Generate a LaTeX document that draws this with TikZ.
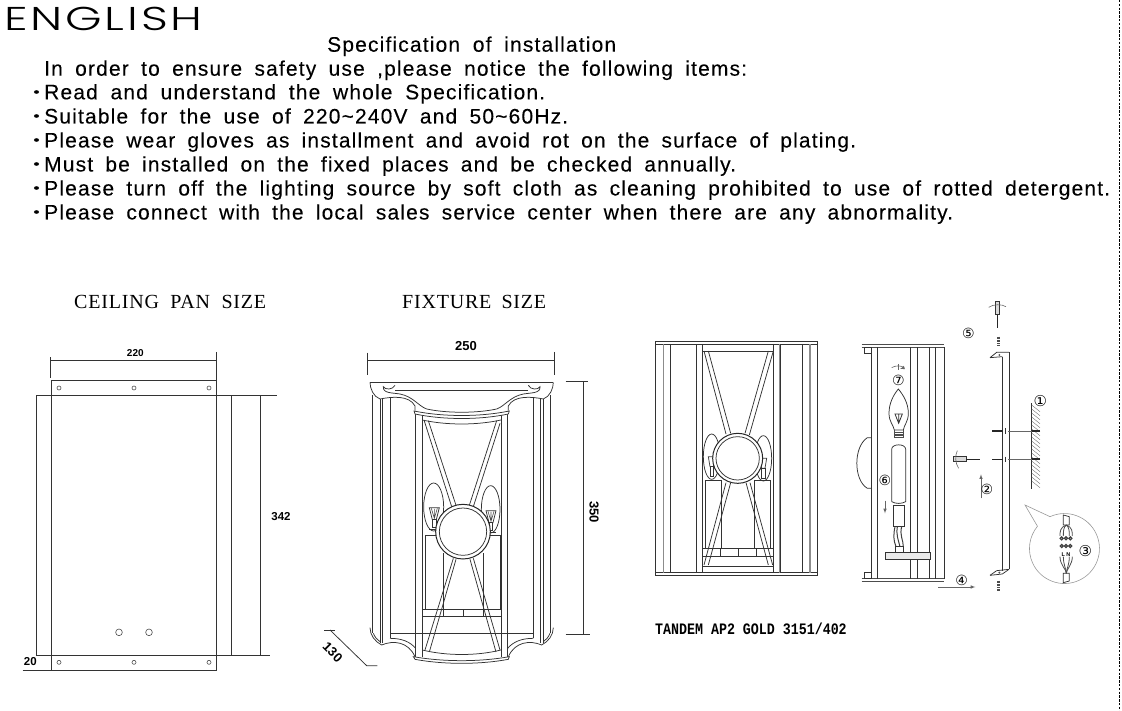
\documentclass[tikz,border=0pt]{standalone}
\usepackage{graphicx}
\usepackage{fontspec}
\setmainfont{Liberation Sans}
\newfontfamily\specfont[LetterSpace=5.5,FakeBold=0.1]{Liberation Sans}
\newfontfamily\engfont[LetterSpace=6]{Poppins Light}
\newfontfamily\titlefont[LetterSpace=4]{Liberation Serif}
\newfontfamily\modelfont{Liberation Mono}
\newfontfamily\digitfont{DejaVu Sans}
\newcommand{\specline}[2]{\makebox[#1pt][s]{\fontsize{21}{21}\specfont #2}}
\tikzset{
  x=1pt,y=-1pt,
  ln/.style={line width=.75pt,draw=black!80},
  thin gray/.style={line width=.6pt,draw=black!60},
  hatch/.style={line width=.4pt,draw=black!55},
  thick gray/.style={line width=1.6pt,draw=black!45},
  hole/.style={line width=.6pt,draw=black!70,fill=white},
  textline/.style={anchor=base west,inner sep=0pt},
  dimlab/.style={inner sep=0pt,font=\bfseries\fontsize{11.5}{11.5}\selectfont},
  dimbig/.style={inner sep=0pt,font=\bfseries\fontsize{13}{13}\selectfont},
  titlelab/.style={anchor=base west,inner sep=0pt,font=\titlefont\fontsize{20}{20}\selectfont},
  digit/.style={inner sep=0pt,font=\digitfont\fontsize{14}{14}\selectfont},
  digitbig/.style={inner sep=0pt,font=\digitfont\fontsize{15}{15}\selectfont},
  bullet/.style={circle,fill=black,inner sep=0pt,minimum size=3.6pt},
  screw/.style={line width=3pt,draw=black!70,dash pattern=on 1pt off .6pt},
}
\begin{document}
\begin{tikzpicture}
\useasboundingbox (0,0) rectangle (1122,711);
% --- text block
\node[textline,font=\engfont\fontsize{33}{33}\selectfont] (eng) at (4,31) {\scalebox{1.42}[1]{ENGLISH}};
\node[textline] (spec) at (327,51.7) {\specline{289}{Specification of installation}};
\node[textline] (l0) at (44,75.7) {\specline{703}{In order to ensure safety use ,please notice the following items:}};
\node[textline] (l1) at (44,99.3) {\specline{501}{Read and understand the whole Specification.}};
\node[textline] (l2) at (44,123.5) {\specline{524}{Suitable for the use of 220\textasciitilde240V and 50\textasciitilde60Hz.}};
\node[textline] (l3) at (44,147.5) {\specline{812}{Please wear gloves as installment and avoid rot on the surface of plating.}};
\node[textline] (l4) at (44,171.5) {\specline{692}{Must be installed on the fixed places and be checked annually.}};
\node[textline] (l5) at (44,195.5) {\specline{1066}{Please turn off the lighting source by soft cloth as cleaning prohibited to use of rotted detergent.}};
\node[textline] (l6) at (44,219.5) {\specline{909}{Please connect with the local sales service center when there are any abnormality.}};
\foreach \n/\yy in {b1/92,b2/116,b3/140,b4/164,b5/188,b6/212}
  \node[bullet,xscale=1.4] (\n) at (36.5,\yy) {};
\draw[line width=1pt,dash pattern=on 2.4pt off 1.4pt] (1119.5,0) -- (1119.5,711);

% --- titles
\node[titlelab] (tpan) at (74,309) {\makebox[192pt][s]{CEILING PAN SIZE}};
\node[titlelab] (tfix) at (402,309) {\makebox[144pt][s]{FIXTURE SIZE}};
\node[anchor=base west,inner sep=0pt,font=\modelfont\bfseries\fontsize{13.3}{13.3}\selectfont] (model) at (655,634) {\scalebox{1}[1.2]{TANDEM AP2 GOLD 3151/402}};

% --- ceiling pan
\begin{scope}[shift={(0,280)},scale=0.33333]
  \draw[ln] (108,347) rectangle (694,1125);
  \draw[ln] (154,300) rectangle (649,1170);
  \draw[ln] (694,347) -- (832,347);
  \draw[ln] (694,1125) -- (809,1125);
  \draw[ln] (781,347) -- (781,1125);
  \draw[ln] (68,1170) -- (154,1170);
  \draw[ln] (152,240) -- (649,240);
  \draw[ln] (152,232) -- (152,295);
  \draw[ln] (649,216) -- (649,300);
  \foreach \xx in {177,402,627} {
    \draw[hole] (\xx,324) circle[radius=6];
    \draw[hole] (\xx,1147) circle[radius=6];
  }
  \draw[hole] (357,1057) circle[radius=10];
  \draw[hole] (447,1057) circle[radius=10];
  \node[dimlab,font=\bfseries\fontsize{10}{10}\selectfont] (d220) at (406,220) {220};
  \node[dimlab] (d342) at (843,711) {342};
  \node[dimlab] (d20) at (91,1145) {20};
\end{scope}

% --- fixture front
\begin{scope}[shift={(320,280)},scale=0.33333]
  % dimensions
  \draw[ln] (143,240) -- (703,240);
  \draw[ln] (143,218) -- (143,285);
  \draw[ln] (703,216) -- (703,285);
  \draw[ln] (737,305) -- (804,305);
  \draw[ln] (737,1064) -- (811,1064);
  \draw[ln] (791,305) -- (791,1064);
  \draw[ln] (12,1050) -- (45,1050);
  \draw[ln] (30,1050) -- (140,1157) -- (172,1157);
  \node[dimbig] (d250) at (438,198) {250};
  \node[dimbig,rotate=-90] (d350) at (822,697) {350};
  \node[dimbig,rotate=-45] (d130) at (38,1117) {130};
  % top plate and rails
  \draw[ln] (150,307) -- (700,307);
  \draw[ln] (225,331) -- (625,331);
  \draw[ln] (211,1060) -- (639,1060);
  % mirrored outer members and curves
  \foreach \mir/\sh in {1/0,-1/850}{
  \begin{scope}[shift={(\sh,0)},xscale=\mir]
    \draw[ln] (158,345) -- (158,1060);
    \draw[ln] (180,357) -- (180,1088);
    \draw[ln] (188,357) -- (188,1088);
    \draw[ln] (210,355) -- (210,1075);
    \draw[ln] (287,392) -- (287,1130);
    \draw[ln] (307,402) -- (307,1130);
    \draw[ln] (150,307) .. controls (150,325) and (160,350) .. (180,357)
      .. controls (215,350) and (268,345) .. (285,378) -- (285,392);
    \draw[ln] (225,316) .. controls (218,330) and (195,330) .. (190,320)
      .. controls (188,340) and (215,338) .. (240,342)
      .. controls (280,350) and (295,378) .. (320,387);
    \draw[ln] (150,1043) .. controls (150,1065) and (165,1085) .. (185,1095)
      .. controls (220,1080) and (265,1085) .. (285,1130);
    \draw[ln] (160,1060) .. controls (165,1072) and (172,1080) .. (180,1085);
    \draw[ln] (210,1075) .. controls (245,1075) and (270,1085) .. (287,1105);
  \end{scope}}
  \draw[ln] (320,387) .. controls (380,400) and (470,400) .. (530,387);
  \draw[ln,fill=white] (282,393) .. controls (370,411) and (480,411) .. (568,393) -- (565,402) .. controls (480,420) and (370,420) .. (285,402) -- cycle;
  \draw[ln] (307,420) .. controls (380,436) and (470,436) .. (543,420);
  % bottom plate
  \draw[ln,fill=white] (280,1130) .. controls (370,1146) and (480,1146) .. (568,1130) -- (565,1138) .. controls (480,1154) and (370,1154) .. (285,1138) -- cycle;
  \draw[ln] (307,1110) .. controls (380,1128) and (470,1128) .. (543,1110);
  % tubes and base
  \draw[ln] (315,765) -- (315,988);
  \draw[ln] (370,820) -- (370,988);
  \draw[ln] (490,820) -- (490,988);
  \draw[ln] (540,765) -- (540,988);
  \draw[ln] (315,765) -- (352,765);
  \draw[ln] (510,765) -- (540,765);
  \draw[ln] (307,988) -- (543,988);
  \draw[ln] (307,1010) -- (543,1010);
  \draw[ln] (370,988) -- (370,1010);
  \draw[ln] (430,988) -- (430,1010);
  \draw[ln] (490,988) -- (490,1010);
  % bulbs
  \draw[ln] (341,681) ellipse[x radius=30,y radius=72];
  \draw[ln] (512,688) ellipse[x radius=28,y radius=71];
  \foreach \cx/\cy in {343/683,513/692}{
    \draw[ln,fill=white] (\cx-15,\cy) -- (\cx+15,\cy) -- (\cx+6,\cy+36) -- (\cx-6,\cy+36) -- cycle;
    \draw[line width=.6pt,draw=black!70] (\cx-9,\cy+2) -- (\cx,\cy+32) -- (\cx+9,\cy+2) (\cx,\cy+4) -- (\cx,\cy+32);
    \draw[ln,fill=white] (\cx-5,\cy+36) rectangle (\cx+5,\cy+60);
    \draw[ln] (\cx-15,\cy+64) -- (\cx+15,\cy+64);
  }
  % X bars
  \foreach \ax/\ay/\bx/\by in {312/420/395/680,325/422/408/676,540/430/460/680,530/422/448/676,
     400/835/315/1110,408/838/328/1116,450/838/528/1116,460/835/540/1110}
    \draw[ln] (\ax,\ay) -- (\bx,\by);
  % medallion
  \draw[line width=1pt,draw=black!85,fill=white] (429,755) circle[radius=82];
  \draw[ln,fill=white] (429,755) circle[radius=71];
\end{scope}

% --- front elevation
\begin{scope}[shift={(640,330)},scale=0.33333]
  \draw[ln] (47,35) rectangle (533,737);
  \draw[ln] (47,42) -- (533,42);
  \draw[ln] (47,728) -- (533,728);
  \foreach \xx in {91,168,187,400,421,487,533}
    \draw[ln] (\xx,42) -- (\xx,728);
  \draw[thick gray] (71,42) -- (71,728);
  \draw[thick gray] (510,42) -- (510,728);
  \draw[thick gray] (418,42) -- (418,728);
  \draw[ln] (187,63) -- (400,63);
  \draw[ln] (187,708) -- (400,708);
  \draw[ln] (187,655) -- (400,655);
  \draw[ln] (187,678) -- (400,678);
  \foreach \xx in {240,295,350}
    \draw[ln] (\xx,655) -- (\xx,678);
  \draw[ln] (195,452) rectangle (245,655);
  \draw[ln] (342,452) rectangle (392,655);
  \foreach \cx/\cy in {215/380,370/385}{
    \draw[ln] (\cx,\cy) ellipse[x radius=25,y radius=68];
    \draw[line width=.7pt,draw=black!75,fill=white] (\cx-10,\cy) -- (\cx+10,\cy) -- (\cx+5,\cy+30) -- (\cx-5,\cy+30) -- cycle;
    \draw[ln,fill=white] (\cx-5,\cy+30) rectangle (\cx+5,\cy+60);
  }
  \foreach \ax/\ay/\bx/\by in {192/63/258/312,205/63/272/310,385/63/315/310,400/63/328/315,
     258/458/192/705,272/458/205/705,318/458/385/705,330/458/398/705}
    \draw[ln] (\ax,\ay) -- (\bx,\by);
  \draw[line width=1pt,draw=black!85,fill=white] (293,385) circle[radius=75];
  \draw[ln,fill=white] (293,385) circle[radius=65];
\end{scope}

% --- side elevation and installation steps
\begin{scope}[shift={(840,290)},scale=0.33333]
  \draw[line width=1.1pt,draw=black!70] (65,163) -- (312,163) (65,172) -- (312,172);
  \draw[line width=1.1pt,draw=black!70] (65,866) -- (312,866) (65,875) -- (312,875);
  \foreach \xx in {95,113,212,232,268,285,312}
    \draw[ln] (\xx,172) -- (\xx,866);
  \draw[ln] (72,172) rectangle (95,190);
  \draw[ln] (72,847) rectangle (95,866);
  \draw[ln] (95,443) -- (82,443) .. controls (40,470) and (40,570) .. (82,595) -- (95,595);
  % bulb
  \draw[ln] (175,297) .. controls (160,315) and (147,340) .. (147,370)
     .. controls (147,395) and (160,405) .. (163,420) -- (190,420)
     .. controls (192,405) and (205,395) .. (205,370)
     .. controls (205,340) and (190,315) .. (175,297) -- cycle;
  \draw[line width=.8pt,draw=black!80] (165,372) -- (176,400) -- (187,372) -- cycle (176,400) -- (176,372);
  \draw[line width=1.4pt,draw=black!70] (164,420) -- (164,442) -- (190,442) -- (190,420) (164,428) -- (190,428) (164,435) -- (190,435);
  % socket tube
  \draw[ln] (155,635) -- (155,478) .. controls (155,460) and (197,460) .. (197,478) -- (197,635) .. controls (185,642) and (167,642) .. (155,635);
  \draw[ln] (160,645) rectangle (192,710);
  \draw[line width=1pt,draw=black!75] (165,710) .. controls (160,735) and (160,750) .. (168,770);
  \draw[line width=1pt,draw=black!75] (172,710) .. controls (168,735) and (175,750) .. (180,770);
  \draw[line width=1pt,draw=black!75] (185,710) .. controls (178,735) and (190,750) .. (190,770);
  \draw[ln] (167,768) rectangle (190,787);
  \draw[ln,fill=black!8] (135,787) rectangle (270,808);
  % rotation mark
  \draw[thin gray] (155,233) .. controls (165,226) and (185,226) .. (192,233);
  \draw[thin gray] (175,222) -- (175,240);
  \draw[thin gray,-latex] (192,233) -- (180,237);
  % arrow 6
  \coordinate (a6s) at (135,632);
  \coordinate (a6e) at (135,670);
  \draw[thin gray,-latex] (a6s) -- (a6e);
  \node[digit] (n7) at (175,270) {⑦};
  \node[digit] (n6) at (135,570) {⑥};
  % bracket
  \draw[ln] (487,200) -- (487,842);
  \draw[ln] (507,187) -- (507,838);
  \draw[ln] (450,203) -- (470,187) -- (507,187);
  \draw[ln] (450,203) -- (487,200);
  \draw[ln] (450,856) -- (470,842) -- (507,838);
  \draw[ln] (450,856) -- (487,852) -- (507,838);
  \draw[hole] (478,195) circle[radius=2];
  \draw[hole] (478,848) circle[radius=2];
  % top screwdriver and screw
  \node[digit] (n5) at (385,130) {⑤};
  \draw[line width=1pt,draw=black!80,fill=black!15] (465,35) rectangle (478,75);
  \draw[line width=1.4pt,draw=black!85] (472,75) -- (472,115);
  \draw[thin gray] (446,52) .. controls (460,42) and (485,42) .. (498,50);
  \draw[screw] (475,140) -- (475,168);
  % bottom screw
  \draw[screw] (475,872) -- (475,903);
  % wall
  \node[digitbig] (n1) at (601,333) {①};
  \draw[ln] (575,340) -- (575,596);
  \foreach \yy in {345,357,...,580}
    \draw[hatch] (575,\yy) -- (600,\yy+20);
  \foreach \yy in {423,508}{
    \draw[line width=1.4pt,draw=black!85] (456,\yy) -- (490,\yy);
    \draw[line width=1pt,draw=black!80] (497,\yy-8) -- (497,\yy+8);
    \draw[thin gray] (505,\yy) -- (575,\yy);
    \draw[line width=2.2pt,draw=black!85] (576,\yy) -- (600,\yy);
  }
  % side driver
  \draw[line width=1pt,draw=black!80,fill=black!15] (340,500) rectangle (378,515);
  \draw[line width=1.4pt,draw=black!85] (378,508) -- (420,508);
  \draw[thin gray] (352,482) .. controls (345,495) and (345,520) .. (356,535);
  % arrows 2 and 4
  \coordinate (a2s) at (423,625);
  \coordinate (a2e) at (423,553);
  \draw[thin gray,-latex] (a2s) -- (a2e);
  \node[digit] (n2) at (441,597) {②};
  \node[digit] (n4) at (365,870) {④};
  \coordinate (a4s) at (295,891);
  \coordinate (a4e) at (406,891);
  \draw[thin gray,-latex] (a4s) -- (a4e);
  % detail bubble
  \draw[line width=.6pt,draw=black!40] (555,645) -- (630,680)
    arc[start angle=-114.4,end angle=219.5,radius=105] -- cycle;
  \draw[ln] (670,675) -- (688,680) -- (688,705) -- (670,705) -- cycle;
  \draw[ln] (670,850) -- (688,850) -- (688,873) -- (670,878) -- cycle;
  \foreach \xx in {660,670,688,697}{
    \draw[line width=.8pt,draw=black!70] (679,705) .. controls (\xx,712) and (\xx,725) .. (\xx,738);
    \draw[line width=.8pt,draw=black!70] (\xx,800) .. controls (\xx,825) and (679,838) .. (679,850);
  }
  \foreach \yy in {745,768}
    \foreach \xx in {665,678,691}
      \draw[line width=1.2pt,draw=black!75] (\xx,\yy) circle[radius=4.5];
  \node[inner sep=0pt,font=\bfseries\fontsize{5.5}{5.5}\selectfont] (lan) at (678,793) {L N};
  \node[digitbig] (n3) at (736,783) {③};
\end{scope}
\end{tikzpicture}
\end{document}
